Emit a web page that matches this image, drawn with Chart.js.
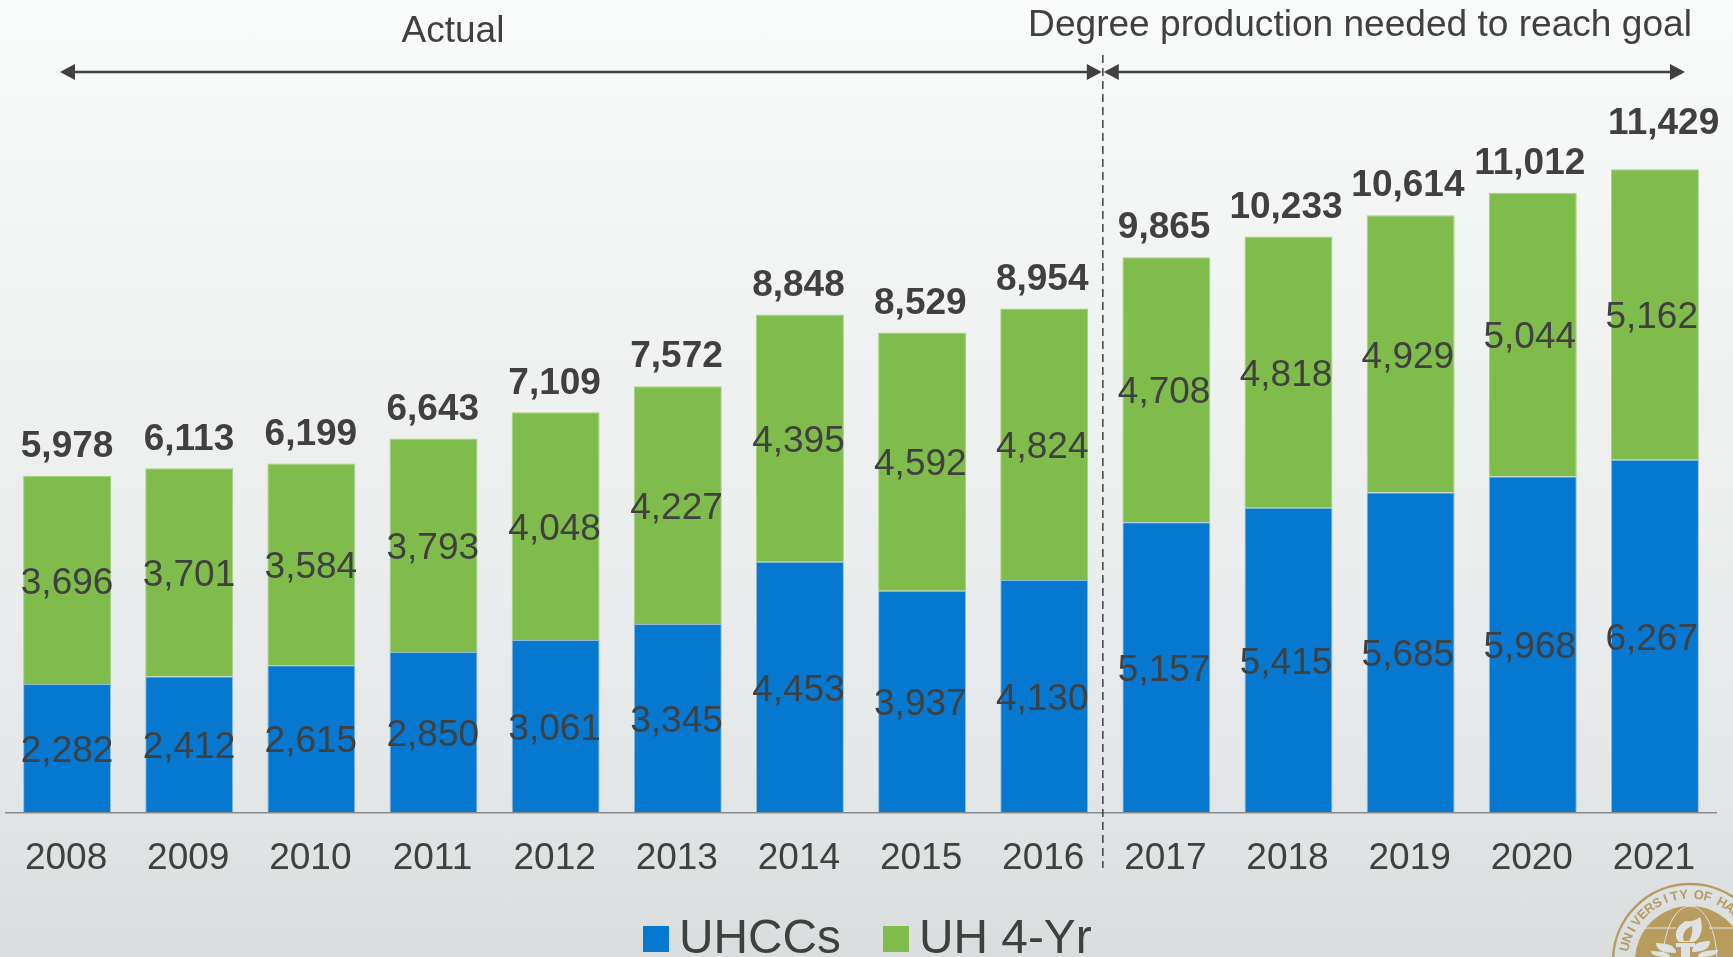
<!DOCTYPE html>
<html lang="en">
<head>
    <meta charset="UTF-8">
    <title>UH degree production</title>
    <style>
        html, body {
            margin: 0;
            padding: 0;
            overflow: hidden;
        }
        body {
            width: 1733px;
            height: 957px;
            background: linear-gradient(to bottom, #f9fafa, #f4f5f5 20%, #edefef 50%, #e5e8e9 78%, #d9dddd);
        }
        canvas {
            display: block;
        }
    </style>
    <script src="https://cdn.jsdelivr.net/npm/chart.js"></script>
</head>
<body>
    <canvas id="degrees" width="1733" height="957"></canvas>
    <script>
        var years = ['2008', '2009', '2010', '2011', '2012', '2013', '2014', '2015', '2016', '2017', '2018', '2019', '2020', '2021'];
        var uhccs = [2282, 2412, 2615, 2850, 3061, 3345, 4453, 3937, 4130, 5157, 5415, 5685, 5968, 6267];
        var uh4yr = [3696, 3701, 3584, 3793, 4048, 4227, 4395, 4592, 4824, 4708, 4818, 4929, 5044, 5162];
        var totals = [5978, 6113, 6199, 6643, 7109, 7572, 8848, 8529, 8954, 9865, 10233, 10614, 11012, 11429];

        var textColor = '#404040';
        var font = '"Liberation Sans", Arial, sans-serif';

        function fmt(n) {
            return n.toLocaleString('en-US');
        }

        // segment values, and the totals above each stack
        var valueLabels = {
            id: 'valueLabels',
            afterDatasetsDraw: function(chart) {
                var ctx = chart.ctx;
                var y = chart.scales.y;
                ctx.save();
                ctx.fillStyle = textColor;
                ctx.textAlign = 'center';
                ctx.textBaseline = 'middle';
                ctx.font = '37px ' + font;
                // text drifts slightly left of the bars going right, same as the original
                chart.data.datasets.forEach(function(ds, d) {
                    chart.getDatasetMeta(d).data.forEach(function(bar, i) {
                        ctx.fillText(fmt(ds.data[i]), bar.x - i * 0.25, (bar.y + bar.base) / 2 + 3.5);
                    });
                });
                ctx.font = 'bold 37px ' + font;
                chart.getDatasetMeta(1).data.forEach(function(bar, i) {
                    // the last total sits higher and to the right in the original
                    var last = i === totals.length - 1;
                    ctx.fillText(fmt(totals[i]), bar.x - i * 0.25 + (last ? 12 : 0), y.getPixelForValue(totals[i]) - (last ? 45 : 29));
                });
                ctx.restore();
            }
        };

        function arrowHead(ctx, x, y, dir) {
            ctx.beginPath();
            ctx.moveTo(x, y);
            ctx.lineTo(x - dir * 15, y - 8);
            ctx.lineTo(x - dir * 15, y + 8);
            ctx.closePath();
            ctx.fill();
        }

        // period arrows, divider and their captions
        var periods = {
            id: 'periods',
            afterDraw: function(chart) {
                var ctx = chart.ctx;
                var divider = chart.scales.x.getPixelForValue(8.48);
                var arrowY = 72;
                ctx.save();
                ctx.strokeStyle = textColor;
                ctx.fillStyle = textColor;

                ctx.lineWidth = 1.5;
                ctx.setLineDash([8, 5]);
                ctx.beginPath();
                ctx.moveTo(divider, 55);
                ctx.lineTo(divider, 868);
                ctx.stroke();
                ctx.setLineDash([]);

                ctx.lineWidth = 2.5;
                ctx.beginPath();
                ctx.moveTo(70, arrowY);
                ctx.lineTo(divider - 8, arrowY);
                ctx.moveTo(divider + 8, arrowY);
                ctx.lineTo(1675, arrowY);
                ctx.stroke();
                arrowHead(ctx, 60, arrowY, -1);
                arrowHead(ctx, divider - 1, arrowY, 1);
                arrowHead(ctx, divider + 1, arrowY, -1);
                arrowHead(ctx, 1685, arrowY, 1);

                ctx.textBaseline = 'alphabetic';
                ctx.textAlign = 'center';
                ctx.font = '37px ' + font;
                ctx.fillText('Actual', 453, 42);
                ctx.font = '37.1px ' + font;
                ctx.fillText('Degree production needed to reach goal', 1360, 36);
                ctx.restore();
            }
        };

        // hand placed legend, the spacing of the built-in one is too loose here
        var bottomLegend = {
            id: 'bottomLegend',
            afterDraw: function(chart) {
                var ctx = chart.ctx;
                var sets = chart.data.datasets;
                var xs = [643, 883];
                ctx.save();
                ctx.font = '47.8px ' + font;
                ctx.textBaseline = 'alphabetic';
                sets.forEach(function(ds, i) {
                    ctx.fillStyle = ds.backgroundColor;
                    ctx.fillRect(xs[i], 926, 26, 26);
                    ctx.fillStyle = textColor;
                    ctx.fillText(ds.label, xs[i] + 36, 953);
                });
                ctx.restore();
            }
        };

        // university seal, bottom right corner, cut off by the page edge
        var seal = {
            id: 'seal',
            afterDraw: function(chart) {
                var ctx = chart.ctx;
                var gold = '#b89b5e';
                var light = '#dfe2e2';
                var cx = 1690, cy = 961;
                var letters = 'UNIVERSITY OF HAWAII';
                var angle = -77.5;
                ctx.save();
                ctx.strokeStyle = gold;
                ctx.fillStyle = gold;
                ctx.lineWidth = 2.5;
                ctx.beginPath();
                ctx.arc(cx, cy, 77, 0, Math.PI * 2);
                ctx.stroke();
                ctx.beginPath();
                ctx.arc(cx, cy, 55, 0, Math.PI * 2);
                ctx.fill();

                ctx.font = 'bold 13px ' + font;
                ctx.textAlign = 'center';
                ctx.textBaseline = 'middle';
                for (var i = 0; i < letters.length; i++) {
                    if (letters[i] === ' ') {
                        angle += 5;
                        continue;
                    }
                    ctx.save();
                    ctx.translate(cx, cy);
                    ctx.rotate(angle * Math.PI / 180);
                    ctx.fillText(letters[i], 0, -66);
                    ctx.restore();
                    angle += 8;
                }

                // globe lines
                ctx.strokeStyle = light;
                ctx.lineWidth = 1;
                ctx.beginPath();
                ctx.ellipse(cx, cy, 27, 55, 0, 0, Math.PI * 2);
                ctx.moveTo(cx - 47, 928);
                ctx.lineTo(cx - 14, 928);
                ctx.moveTo(cx + 19, 928);
                ctx.lineTo(cx + 47, 928);
                ctx.stroke();

                // torch
                ctx.fillStyle = light;
                ctx.beginPath();
                ctx.moveTo(1679, 942);
                ctx.bezierCurveTo(1672, 934, 1678, 925, 1686, 921);
                ctx.quadraticCurveTo(1694, 922, 1700, 917);
                ctx.bezierCurveTo(1704, 928, 1701, 938, 1694, 942);
                ctx.closePath();
                ctx.fill();
                ctx.fillStyle = gold;
                ctx.beginPath();
                ctx.moveTo(1684, 941);
                ctx.bezierCurveTo(1681, 934, 1686, 928, 1692, 926);
                ctx.bezierCurveTo(1693, 932, 1691, 938, 1689, 941);
                ctx.closePath();
                ctx.fill();
                ctx.fillStyle = light;
                ctx.fillRect(1676, 943, 19, 4);
                ctx.fillRect(1681, 947, 9, 10);
                [[1656, 943, 1676, 953], [1651, 951, 1670, 957], [1710, 941, 1692, 952], [1718, 950, 1698, 957]].forEach(function(leaf) {
                    ctx.beginPath();
                    ctx.moveTo(leaf[0], leaf[1]);
                    ctx.quadraticCurveTo(leaf[2], leaf[1], leaf[2], leaf[3]);
                    ctx.quadraticCurveTo(leaf[0], leaf[3], leaf[0], leaf[1]);
                    ctx.fill();
                });
                ctx.restore();
            }
        };

        var chart = new Chart(document.getElementById('degrees'), {
            type: 'bar',
            data: {
                labels: years,
                datasets: [
                    {
                        label: 'UHCCs',
                        data: uhccs,
                        backgroundColor: '#0678cf',
                        borderColor: '#8fbbd8',
                        borderWidth: { left: 1, right: 1, top: 1, bottom: 0 },
                        borderSkipped: false
                    },
                    {
                        label: 'UH 4-Yr',
                        data: uh4yr,
                        backgroundColor: '#80bc4c',
                        borderColor: '#a6d07f',
                        borderWidth: { left: 1, right: 1, top: 1, bottom: 0 },
                        borderSkipped: false
                    }
                ]
            },
            options: {
                responsive: false,
                animation: false,
                layout: { padding: { left: 6, right: 17, top: 0, bottom: 0 } },
                plugins: {
                    legend: { display: false },
                    tooltip: { enabled: false }
                },
                scales: {
                    x: {
                        stacked: true,
                        categoryPercentage: 0.71,
                        barPercentage: 1,
                        grid: { display: false, drawTicks: false },
                        border: { color: '#8c8c8c', width: 1.5 },
                        ticks: {
                            color: textColor,
                            font: { family: font, size: 37 },
                            padding: 24,
                            labelOffset: -1,
                            maxRotation: 0,
                            autoSkip: false
                        },
                        afterFit: function(scale) {
                            scale.height = 957 - 812.3;
                            // tick padding otherwise pushes the plot in from the left
                            scale.paddingLeft = 0;
                            scale.paddingRight = 0;
                        }
                    },
                    y: {
                        stacked: true,
                        display: false,
                        min: 0,
                        max: 14438
                    }
                }
            },
            plugins: [valueLabels, periods, bottomLegend, seal]
        });
    </script>
</body>
</html>
